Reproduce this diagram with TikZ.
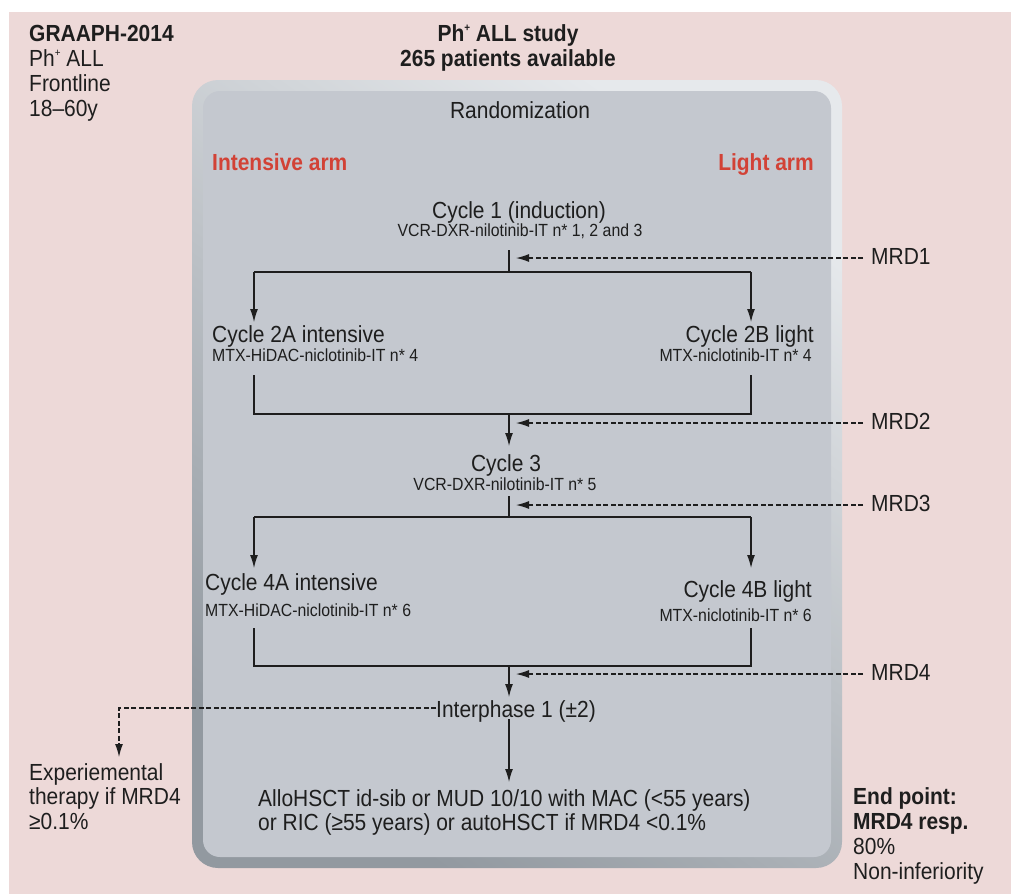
\documentclass[tikz,border=0pt]{standalone}
\usepackage{fontspec}
\setmainfont{Liberation Sans}[FakeStretch=0.9]
\usetikzlibrary{arrows.meta}
\definecolor{bgpink}{RGB}{237,217,216}
\definecolor{boxgray}{RGB}{196,200,207}
\definecolor{boxlight}{RGB}{230,233,236}
\definecolor{boxdark}{RGB}{146,153,160}
\definecolor{armred}{RGB}{210,66,54}
\definecolor{ink}{RGB}{30,30,30}
\newcommand{\supplus}{\raisebox{0.42em}{\fontsize{11}{11}\selectfont +}}
\begin{document}
\begin{tikzpicture}[x=1pt,y=-1pt,
  txt/.style={inner sep=0pt, anchor=base, text=ink, font=\fontsize{23.3}{25.3}\selectfont},
  txtb/.style={txt, font=\fontsize{23.3}{25.3}\selectfont\bfseries},
  small/.style={inner sep=0pt, anchor=base, text=ink, font=\fontsize{17.6}{19}\selectfont},
  armlabel/.style={txtb, text=armred},
  conn/.style={draw=ink, line width=1.2pt},
  arr/.style={conn, -{Latex[length=13pt,width=8pt]}},
  dasharr/.style={arr, dash pattern=on 5pt off 2.5pt}]
\useasboundingbox (0,0) rectangle (1011,894);
% background
\fill[bgpink] (9,12) rectangle (1011,894);
% bevelled box
\shade[rounded corners=26pt, shading=axis, top color=boxlight, bottom color=boxdark, shading angle=-35]
  (192,80) rectangle (842,868);
\fill[boxgray, rounded corners=17pt] (203,91) rectangle (831,857);
% header texts
\node[txtb, anchor=base west] (g1) at (29,41) {GRAAPH-2014};
\node[txt, anchor=base west] (g2) at (29,66) {Ph\supplus{} ALL};
\node[txt, anchor=base west] (g3) at (29,91) {Frontline};
\node[txt, anchor=base west] (g4) at (29,116) {18–60y};
\node[txtb] (t1) at (508,41) {Ph\supplus{} ALL study};
\node[txtb] (t2) at (508,66) {265 patients available};
\node[txt] (rand) at (520,118) {Randomization};
\node[armlabel, anchor=base west] (ia) at (212,170) {Intensive arm};
\node[armlabel, anchor=base east] (la) at (814,170) {Light arm};
% cycle 1
\node[txt] (c1) at (519,218) {Cycle 1 (induction)};
\node[small] (c1s) at (520,236) {VCR-DXR-nilotinib-IT n* 1, 2 and 3};
% cycle 2
\node[txt, anchor=base west] (c2a) at (212,342) {Cycle 2A intensive};
\node[small, anchor=base west] (c2as) at (212,361) {MTX-HiDAC-niclotinib-IT n* 4};
\node[txt, anchor=base east] (c2b) at (814,342) {Cycle 2B light};
\node[small, anchor=base east] (c2bs) at (812,361) {MTX-niclotinib-IT n* 4};
% cycle 3
\node[txt] (c3) at (506,471) {Cycle 3};
\node[small] (c3s) at (505,490) {VCR-DXR-nilotinib-IT n* 5};
% cycle 4
\node[txt, anchor=base west] (c4a) at (205,590) {Cycle 4A intensive};
\node[small, anchor=base west] (c4as) at (205,616) {MTX-HiDAC-niclotinib-IT n* 6};
\node[txt, anchor=base east] (c4b) at (812,597) {Cycle 4B light};
\node[small, anchor=base east] (c4bs) at (812,621) {MTX-niclotinib-IT n* 6};
% interphase
\node[txt] (ip) at (516,717) {Interphase 1 (±2)};
\node[txt, anchor=base west] (hs1) at (258,806) {AlloHSCT id-sib or MUD 10/10 with MAC (<55 years)};
\node[txt, anchor=base west] (hs2) at (258,830) {or RIC (≥55 years) or autoHSCT if MRD4 <0.1\%};
% experimental
\node[txt, anchor=base west] (ex1) at (29,780) {Experiemental};
\node[txt, anchor=base west] (ex2) at (29,804) {therapy if MRD4};
\node[txt, anchor=base west] (ex3) at (29,829) {≥0.1\%};
% end point
\node[txtb, anchor=base west] (ep1) at (853,804) {End point:};
\node[txtb, anchor=base west] (ep2) at (853,829) {MRD4 resp.};
\node[txt, anchor=base west] (ep3) at (853,854) {80\%};
\node[txt, anchor=base west] (ep4) at (853,879) {Non-inferiority};
% MRD labels
\node[txt, anchor=base west] (m1) at (871,264) {MRD1};
\node[txt, anchor=base west] (m2) at (871,429) {MRD2};
\node[txt, anchor=base west] (m3) at (871,511) {MRD3};
\node[txt, anchor=base west] (m4) at (871,680) {MRD4};
% junction coordinates
\coordinate (s1t) at (509,250);
\coordinate (s1b) at (509,272);
\coordinate (aL1) at (254,272);
\coordinate (aR1) at (751,272);
\coordinate (aL1e) at (254,322);
\coordinate (aR1e) at (751,322);
\coordinate (bL2t) at (254,375);
\coordinate (bR2t) at (751,375);
\coordinate (bL2) at (254,414);
\coordinate (bR2) at (751,414);
\coordinate (s2t) at (509,414);
\coordinate (s2b) at (509,446);
\coordinate (s3t) at (509,496);
\coordinate (s3b) at (509,517);
\coordinate (aL3) at (254,517);
\coordinate (aR3) at (751,517);
\coordinate (aL3e) at (254,568);
\coordinate (aR3e) at (751,568);
\coordinate (bL4t) at (254,628);
\coordinate (bR4t) at (751,628);
\coordinate (bL4) at (254,666);
\coordinate (bR4) at (751,666);
\coordinate (s4t) at (509,666);
\coordinate (s4b) at (509,697);
\coordinate (s5t) at (509,719);
\coordinate (s5b) at (509,782);
\coordinate (exC) at (119,708);
\coordinate (exE) at (119,757);
% MRD arrow coordinates
\coordinate (d1s) at (863,258); \coordinate (d1e) at (516,258);
\coordinate (d2s) at (863,423); \coordinate (d2e) at (516,423);
\coordinate (d3s) at (863,505); \coordinate (d3e) at (516,505);
\coordinate (d4s) at (863,674); \coordinate (d4e) at (516,674);
% connectors
\draw[conn] (s1t) -- (s1b);
\draw[conn] (aL1) -- (aR1);
\draw[arr] (aL1) -- (aL1e);
\draw[arr] (aR1) -- (aR1e);
\draw[conn] (bL2t) -- (bL2) -- (bR2) -- (bR2t);
\draw[arr] (s2t) -- (s2b);
\draw[conn] (s3t) -- (s3b);
\draw[conn] (aL3) -- (aR3);
\draw[arr] (aL3) -- (aL3e);
\draw[arr] (aR3) -- (aR3e);
\draw[conn] (bL4t) -- (bL4) -- (bR4) -- (bR4t);
\draw[arr] (s4t) -- (s4b);
\draw[arr] (s5t) -- (s5b);
\draw[dasharr] (ip.west |- exC) -- (exC) -- (exE);
\draw[dasharr] (d1s) -- (d1e);
\draw[dasharr] (d2s) -- (d2e);
\draw[dasharr] (d3s) -- (d3e);
\draw[dasharr] (d4s) -- (d4e);
\end{tikzpicture}
\end{document}
